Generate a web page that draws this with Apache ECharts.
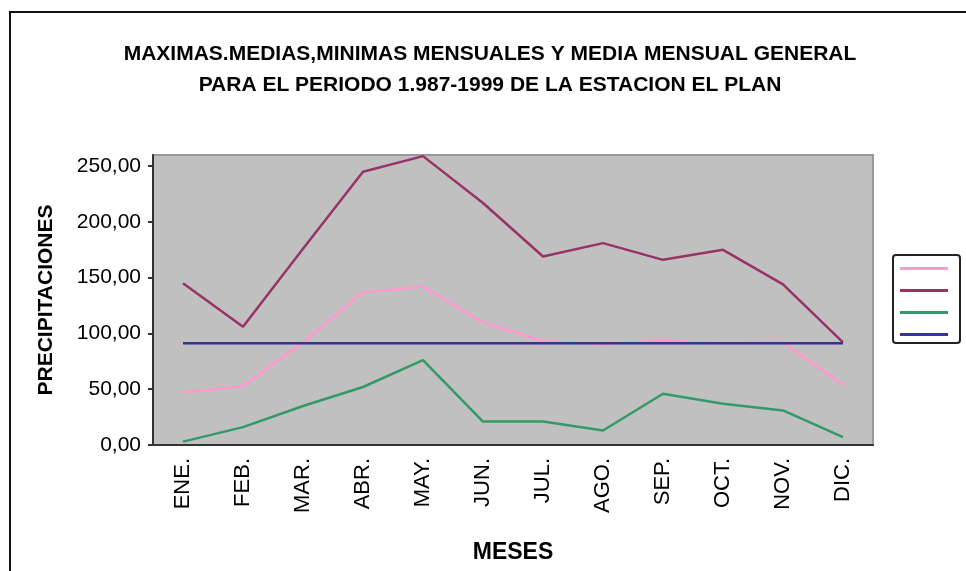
<!DOCTYPE html>
<html>
<head>
<meta charset="utf-8">
<script src="https://cdn.jsdelivr.net/npm/echarts@6/dist/echarts.min.js"></script>
<style>
  html, body { margin: 0; padding: 0; background: #fff; }
  #chart { width: 966px; height: 571px; }
</style>
</head>
<body>
<div id="chart"></div>
<script>
const meses = ['ENE.', 'FEB.', 'MAR.', 'ABR.', 'MAY.', 'JUN.', 'JUL.', 'AGO.', 'SEP.', 'OCT.', 'NOV.', 'DIC.']
const medias = [47, 53, 92, 137, 142, 110, 93, 90, 94, 91, 92, 54]
const maximas = [145, 106, 176, 245, 259, 217, 169, 181, 166, 175, 144, 92]
const minimas = [3, 16, 35, 52, 76, 21, 21, 13, 46, 37, 31, 7]
const mediaGeneral = [91.2, 91.2, 91.2, 91.2, 91.2, 91.2, 91.2, 91.2, 91.2, 91.2, 91.2, 91.2]
const yTicks = [0, 50, 100, 150, 200, 250]

const chart = echarts.init(document.getElementById('chart'))

const lineSerie = (name, data, color, width) => ({
  name: name,
  type: 'line',
  data: data,
  symbol: 'none',
  lineStyle: { color: color, width: width },
  itemStyle: { color: color },
  animation: false
})

const option = {
  animation: false,
  title: {
    text: 'MAXIMAS.MEDIAS,MINIMAS MENSUALES Y MEDIA MENSUAL GENERAL\nPARA EL PERIODO 1.987-1999 DE LA ESTACION EL PLAN',
    left: 485,
    textAlign: 'center',
    top: 34,
    padding: 5,
    textStyle: {
      fontFamily: 'Liberation Sans',
      fontWeight: 'bold',
      fontSize: 21,
      lineHeight: 31,
      color: '#000'
    }
  },
  legend: {
    orient: 'vertical',
    left: 893,
    top: 255,
    icon: 'rect',
    itemWidth: 48,
    itemHeight: 3,
    itemGap: 19,
    padding: [12, 12, 7, 7],
    borderColor: '#222',
    borderWidth: 2,
    borderRadius: 3,
    formatter: () => '',
    textStyle: { fontSize: 12 },
    selectedMode: false
  },
  grid: {
    left: 153,
    top: 155,
    right: 93,
    bottom: 126,
    show: true,
    backgroundColor: '#c0c0c0',
    borderColor: '#9a9a9a',
    borderWidth: 2
  },
  xAxis: {
    type: 'category',
    data: meses,
    boundaryGap: true,
    name: 'MESES',
    nameLocation: 'middle',
    nameGap: 96,
    nameTextStyle: { fontFamily: 'Liberation Sans', fontWeight: 'bold', fontSize: 23, color: '#000' },
    axisLine: { lineStyle: { color: '#333', width: 2 } },
    axisTick: { length: 5, lineStyle: { color: '#333', width: 2 } },
    axisLabel: {
      rotate: 90,
      margin: 13,
      fontFamily: 'Liberation Sans',
      fontSize: 22,
      color: '#000'
    },
    splitLine: { show: false }
  },
  yAxis: {
    type: 'value',
    min: 0,
    max: 260,
    interval: 50,
    name: 'PRECIPITACIONES',
    nameLocation: 'middle',
    nameGap: 96,
    nameTextStyle: { fontFamily: 'Liberation Sans', fontWeight: 'bold', fontSize: 21, color: '#000' },
    axisLine: { show: true, lineStyle: { color: '#333', width: 2 } },
    axisTick: { show: true, length: 5, customValues: yTicks, lineStyle: { color: '#333', width: 2 } },
    axisLabel: {
      customValues: yTicks,
      margin: 12,
      fontFamily: 'Liberation Sans',
      fontSize: 21,
      color: '#000',
      formatter: v => v.toFixed(2).replace('.', ',')
    },
    splitLine: { show: false }
  },
  graphic: [
    { type: 'line', shape: { x1: 9, y1: 12, x2: 966, y2: 12 }, style: { stroke: '#111', lineWidth: 2 } },
    { type: 'line', shape: { x1: 10, y1: 12, x2: 10, y2: 571 }, style: { stroke: '#111', lineWidth: 2 } }
  ],
  series: [
    lineSerie('Medias mensuales', medias, '#ff99cc', 2.5),
    lineSerie('Máximas mensuales', maximas, '#993366', 2.5),
    lineSerie('Mínimas mensuales', minimas, '#339966', 2.5),
    lineSerie('Media mensual general', mediaGeneral, '#333399', 2.5)
  ]
}

chart.setOption(option)
</script>
</body>
</html>
